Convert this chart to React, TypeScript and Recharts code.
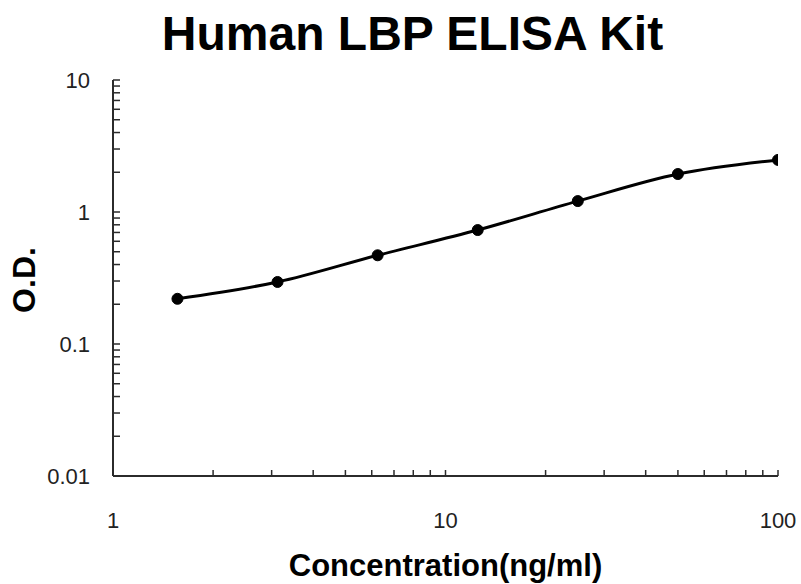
import { ComposedChart, Line, XAxis, YAxis } from "recharts";

// standard curve: concentration (ng/ml) vs O.D.
const concentrations = [1.5625, 3.125, 6.25, 12.5, 25, 50, 100];
const odValues = [0.22, 0.295, 0.47, 0.73, 1.21, 1.94, 2.48];

const xTicks = [1, 2, 3, 4, 5, 6, 7, 8, 9, 10, 20, 30, 40, 50, 60, 70, 80, 90, 100];
const xLabels = [1, 10, 100];
const yTicks = [
  0.01, 0.02, 0.03, 0.04, 0.05, 0.06, 0.07, 0.08, 0.09,
  0.1, 0.2, 0.3, 0.4, 0.5, 0.6, 0.7, 0.8, 0.9,
  1, 2, 3, 4, 5, 6, 7, 8, 9, 10,
];
const yLabels = [0.01, 0.1, 1, 10];

const data = concentrations.map((c, i) => ({ conc: c, od: odValues[i] }));

const FONT = '"Liberation Sans", Arial, sans-serif';
const AXIS = "#2b2b2b";

const XTick = (props: any) => {
  const { x, y, payload } = props;
  const show = xLabels.includes(payload.value);
  return (
    <g>
      <line x1={x} y1={y} x2={x} y2={y - 6} stroke={AXIS} strokeWidth={1.5} />
      {show && (
        <text x={x} y={y + 44} textAnchor="middle" dominantBaseline="central" fontSize={22} fill="#222" fontFamily={FONT}>
          {payload.value}
        </text>
      )}
    </g>
  );
};

const YTick = (props: any) => {
  const { x, y, payload } = props;
  const show = yLabels.includes(payload.value);
  return (
    <g>
      <line x1={x} y1={y} x2={x + 7} y2={y} stroke={AXIS} strokeWidth={1.5} />
      {show && (
        <text x={x - 23} y={y} textAnchor="end" dominantBaseline="central" fontSize={22} fill="#222" fontFamily={FONT}>
          {String(payload.value)}
        </text>
      )}
    </g>
  );
};

const YTitle = ({ viewBox }: any) => {
  const cx = 35;
  const cy = viewBox.y + viewBox.height / 2 + 2;
  return (
    <text transform={`translate(${cx},${cy}) rotate(-90)`} textAnchor="middle" fontSize={32} fontWeight="bold" fill="#000" fontFamily={FONT}>
      O.D.
    </text>
  );
};

export default function App() {
  return (
    <div style={{ position: "absolute", left: 0, top: 0, width: 801, height: 584, background: "#fff", fontFamily: FONT }}>
      <div
        style={{
          position: "absolute",
          left: 0,
          top: 10,
          width: 825,
          textAlign: "center",
          fontSize: 48,
          lineHeight: "48px",
          fontWeight: "bold",
          color: "#000",
        }}
      >
        Human LBP ELISA Kit
      </div>
      <ComposedChart width={801} height={584} data={data} margin={{ top: 80, right: 23, bottom: 48, left: 53 }}>
        <XAxis
          dataKey="conc"
          type="number"
          scale="log"
          domain={[1, 100]}
          ticks={xTicks}
          interval={0}
          tick={<XTick />}
          tickLine={false}
          tickSize={0}
          tickMargin={0}
          height={60}
          axisLine={{ stroke: AXIS, strokeWidth: 2 }}
          allowDataOverflow
          label={{
            value: "Concentration(ng/ml)",
            position: "bottom",
            offset: 18,
            style: { fontSize: 31, fontWeight: "bold", fill: "#000", fontFamily: FONT },
          }}
        />
        <YAxis
          type="number"
          scale="log"
          domain={[0.01, 10]}
          ticks={yTicks}
          interval={0}
          tick={<YTick />}
          tickLine={false}
          tickSize={0}
          tickMargin={0}
          width={60}
          axisLine={{ stroke: AXIS, strokeWidth: 2 }}
          allowDataOverflow
          label={{ content: <YTitle /> }}
        />
        <Line
          type="monotone"
          dataKey="od"
          stroke="#000"
          strokeWidth={3}
          dot={{ r: 5.5, fill: "#000", stroke: "#000", strokeWidth: 1 }}
          isAnimationActive={false}
        />
      </ComposedChart>
    </div>
  );
}
